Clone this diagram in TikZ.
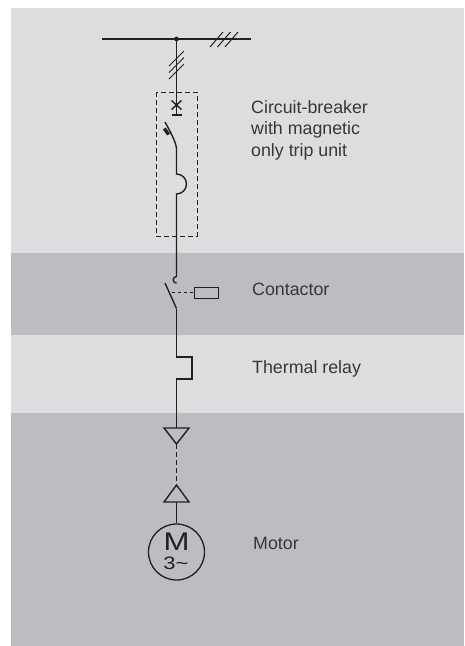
\documentclass[tikz,border=0pt]{standalone}
\usepackage{fontspec}
\setmainfont{Liberation Sans}
\definecolor{bglight}{RGB}{220,221,223}
\definecolor{bgdark}{RGB}{188,189,192}
\definecolor{linec}{RGB}{35,31,32}
\definecolor{txtc}{RGB}{55,55,57}
\begin{document}
\begin{tikzpicture}[x=1pt,y=-1pt,
  wire/.style={line width=1.4pt, draw=linec},
  thin wire/.style={line width=1pt, draw=linec},
  dashbox/.style={line width=1pt, draw=linec, dash pattern=on 5pt off 3pt},
  lbl/.style={anchor=base west, inner sep=0pt, text=txtc, font=\fontsize{17.8}{21.5}\selectfont},
  coilbox/.style={draw=linec, line width=1pt, minimum width=24pt, minimum height=11pt, inner sep=0pt},
  motorc/.style={draw=linec, line width=1.3pt, circle, minimum size=56pt, inner sep=0pt},
  mtxt/.style={anchor=base, inner sep=0pt, text=linec, xscale=1.22}
]
\useasboundingbox (0,0) rectangle (464,646);
% background bands
\fill[bglight] (11,8) rectangle (464,253);
\fill[bgdark] (11,253) rectangle (464,335);
\fill[bglight] (11,335) rectangle (464,413);
\fill[bgdark] (11,413) rectangle (464,646);

% busbar
\coordinate (busL) at (102,39);
\coordinate (busR) at (251,39);
\coordinate (tap) at (176.5,39);
\draw[wire] (busL) -- (busR);
\fill[linec] (tap) circle (2.4);
\foreach \d in {0,7.5,15} \draw[thin wire] (210+\d,47) -- ++(13,-15);

% vertical feeder with slashes
\coordinate (bar) at (176.5,115);
\draw[wire] (tap) -- (bar);
\foreach \d in {0,6.5,13} \draw[thin wire] (169,79-\d) -- ++(15,-15);

% circuit-breaker
\draw[dashbox] (156,92) rectangle (197,236);
\draw[wire] (171.5,115) -- (181.5,115);
\draw[wire] (171.5,100.5) -- (181.5,109.5) (171.5,109.5) -- (181.5,100.5);
\coordinate (cbtop) at (165,122);
\coordinate (cbbot) at (176.5,149);
\draw[wire] (cbtop) .. controls (170,131) and (176.5,143) .. (cbbot);
\draw[linec, line width=3.4pt] (164.3,128.5) -- (168.6,134.5);
\coordinate (magtop) at (176.5,174);
\coordinate (magbot) at (176.5,194);
\draw[wire] (cbbot) -- (magtop) arc[start angle=-90, end angle=90, radius=10] -- (176.5,276.5)
  arc[start angle=-90, end angle=-270, radius=3.3];

% contactor
\coordinate (cttop) at (165,283);
\coordinate (ctbot) at (176.5,308.5);
\draw[wire] (cttop) -- (ctbot);
\node[coilbox] (coil) at (206,292.5) {};
\draw[thin wire, dash pattern=on 3.5pt off 2.5pt] (171.5,292.5) -- (coil.west);

% thermal relay
\coordinate (trtop) at (176.5,357);
\coordinate (trbot) at (176.5,379);
\draw[wire] (ctbot) -- (trtop) -- (192,357) -- (192,379) -- (trbot) -- (176.5,428);

% plug / socket
\draw[wire, line join=miter] (164,428) -- (189,428) -- (176.5,444) -- cycle;
\draw[thin wire, dash pattern=on 5pt off 3pt] (176.5,444) -- (176.5,485);
\draw[wire, line join=miter] (176.5,485) -- (189,502) -- (164,502) -- cycle;

% motor
\node[motorc] (motor) at (176.5,552) {};
\draw[wire] (176.5,502) -- (motor.north);
\node[mtxt, font=\fontsize{25.5}{25.5}\selectfont] (mM) at (176.5,550) {M};
\node[mtxt, font=\fontsize{18}{18}\selectfont] (m3) at (176,569) {3\char`\~};

% labels
\node[lbl] (cb1) at (251,113) {Circuit-breaker};
\node[lbl] (cb2) at (251,134.5) {with magnetic};
\node[lbl] (cb3) at (251,156) {only trip unit};
\node[lbl] (ctl) at (252,295) {Contactor};
\node[lbl] (trl) at (252,373) {Thermal relay};
\node[lbl] (mol) at (253,549) {Motor};
\end{tikzpicture}
\end{document}
